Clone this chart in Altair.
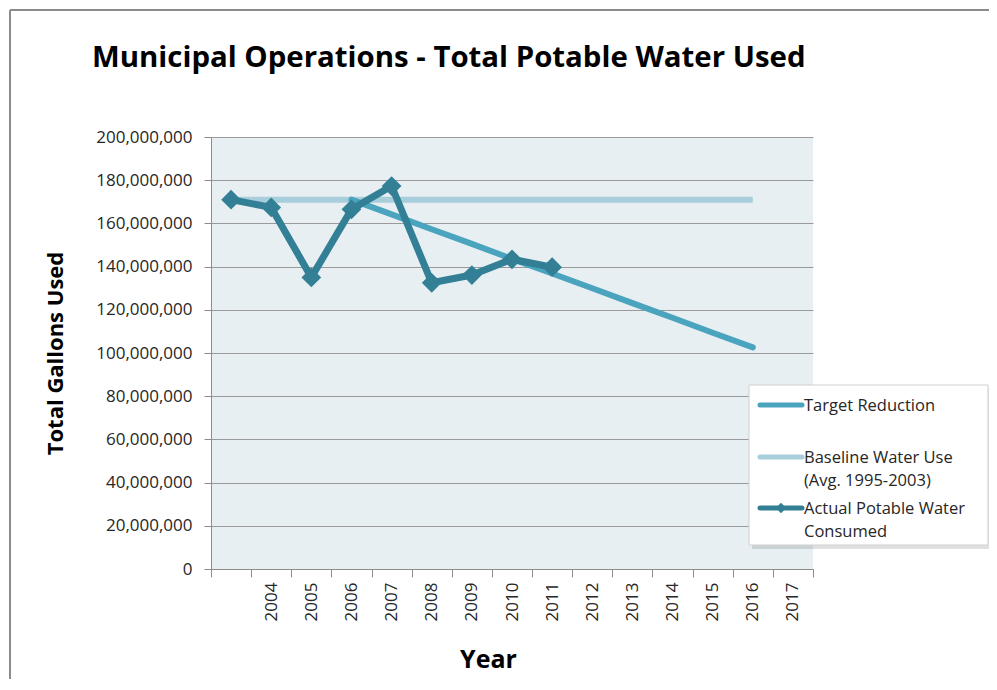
import altair as alt
import pandas as pd

# ---------------- data ----------------
categories = ["1995-2003", "2004", "2005", "2006", "2007", "2008", "2009", "2010",
              "2011", "2012", "2013", "2014", "2015", "2016", "2017"]

actual_years = ["1995-2003", "2004", "2005", "2006", "2007", "2008", "2009", "2010", "2011"]
actual_values = [171.0, 167.4, 135.0, 166.5, 177.3, 132.5, 136.1, 143.4, 139.7]  # million gallons

baseline_years = ["1995-2003", "2004", "2005", "2006", "2007", "2008", "2009", "2010",
                  "2011", "2012", "2013", "2014", "2015", "2016"]
baseline_values = [171.0, 171.0, 171.0, 171.0, 171.0, 171.0, 171.0, 171.0,
                   171.0, 171.0, 171.0, 171.0, 171.0, 171.0]

target_years = ["2006", "2007", "2008", "2009", "2010", "2011", "2012", "2013",
                "2014", "2015", "2016"]
target_values = [171.0, 164.2, 157.3, 150.5, 143.6, 136.8, 130.0, 123.1, 116.3, 109.4, 102.6]

series_names = ["Target Reduction", "Baseline Water Use (Avg. 1995-2003)",
                "Actual Potable Water Consumed"]
legend_labels = ["Target Reduction", "Baseline Water Use\n(Avg. 1995-2003)",
                 "Actual Potable Water\nConsumed"]
series_colors = ["#4AA4BE", "#A9CEDB", "#327F96"]

y_ticks = [0, 20000000, 40000000, 60000000, 80000000, 100000000,
           120000000, 140000000, 160000000, 180000000, 200000000]

chart_title = "Municipal Operations - Total Potable Water Used"

# ---------------- table ----------------
rows = []
for name, yrs, vals in [(series_names[0], target_years, target_values),
                        (series_names[1], baseline_years, baseline_values),
                        (series_names[2], actual_years, actual_values)]:
    for yr, v in zip(yrs, vals):
        rows.append({"series": name, "year": yr, "gallons": v * 1e6})
df = pd.DataFrame(rows)
one = pd.DataFrame({"k": [0]})

FONT = "Open Sans"
GRAY = "#8c8c8c"
TXT = "#262626"

x_enc = alt.X(
    "year:N",
    bandPosition=0.5,
    scale=alt.Scale(type="band", domain=categories, paddingInner=0, paddingOuter=0),
    axis=alt.Axis(
        title="Year", tickBand="extent", labelAngle=270,
        labelExpr="datum.value == '1995-2003' ? '' : datum.value",
        labelFont=FONT, labelFontSize=17, labelColor=TXT, labelPadding=5,
        tickColor=GRAY, tickSize=8, domainColor=GRAY, grid=False,
        titleFont=FONT, titleFontSize=25, titleFontWeight="bold", titleColor="black",
        titleX=277, titleY=98, titleBaseline="alphabetic", titleAlign="center",
    ),
)
y_enc = alt.Y(
    "gallons:Q",
    scale=alt.Scale(domain=[0, 200000000], nice=False),
    axis=alt.Axis(
        title="Total Gallons Used", values=y_ticks,
        labelExpr="format(datum.value, ',')",
        labelFont=FONT, labelFontSize=17, labelColor=TXT, labelPadding=12,
        tickColor=GRAY, tickSize=7, domainColor=GRAY,
        grid=True, gridColor="#9a9a9a", gridWidth=1,
        titleFont=FONT, titleFontSize=22, titleFontWeight="bold", titleColor="black",
        titleAngle=270, titleX=-156, titleY=216, titleAlign="center", titleBaseline="middle",
    ),
)
c_enc = alt.Color("series:N", scale=alt.Scale(domain=series_names, range=series_colors), legend=None)

base = alt.Chart(df).encode(x=x_enc, y=y_enc, color=c_enc)

baseline_line = base.transform_filter(alt.datum.series == series_names[1]).mark_line(
    strokeWidth=6, strokeCap="butt")
target_line = base.transform_filter(alt.datum.series == series_names[0]).mark_line(
    strokeWidth=6, strokeCap="round")
actual_line = base.transform_filter(alt.datum.series == series_names[2]).mark_line(
    strokeWidth=7, strokeJoin="round", strokeCap="round")
actual_pts = base.transform_filter(alt.datum.series == series_names[2]).mark_point(
    shape="diamond", filled=True, size=390, opacity=1)

# outer frame
frame_top = alt.Chart(one).mark_rule(color=GRAY, strokeWidth=2).encode(
    x=alt.value(-201), x2=alt.value(800), y=alt.value(-127))
frame_left = alt.Chart(one).mark_rule(color=GRAY, strokeWidth=2).encode(
    x=alt.value(-201), y=alt.value(-127), y2=alt.value(600))

# chart title
title_text = alt.Chart(one).mark_text(
    text=chart_title, align="left", baseline="alphabetic", font=FONT,
    fontSize=29.4, fontWeight="bold", color="black").encode(
    x=alt.value(-119), y=alt.value(-70))

# legend box
shadow = alt.Chart(one).mark_rect(color="#000000", opacity=0.12).encode(
    x=alt.value(541), x2=alt.value(781), y=alt.value(251), y2=alt.value(412))
box = alt.Chart(one).mark_rect(color="white", stroke="#cfcfcf", strokeWidth=1).encode(
    x=alt.value(538), x2=alt.value(777), y=alt.value(248), y2=alt.value(408))

legend_layers = [shadow, box]
entry_y = [268, 320, 371]
for i in range(3):
    legend_layers.append(
        alt.Chart(one).mark_rule(color=series_colors[i], strokeWidth=5, strokeCap="round").encode(
            x=alt.value(549), x2=alt.value(591), y=alt.value(entry_y[i])))
    legend_layers.append(
        alt.Chart(one).mark_text(text=legend_labels[i], lineBreak="\n", align="left",
                                 baseline="alphabetic", font=FONT, fontSize=16.5,
                                 lineHeight=23, color=TXT).encode(
            x=alt.value(593), y=alt.value(entry_y[i] + 6)))
legend_layers.append(
    alt.Chart(one).mark_point(shape="diamond", filled=True, size=110, opacity=1,
                              color=series_colors[2]).encode(
        x=alt.value(570), y=alt.value(entry_y[2])))

chart = alt.layer(
    frame_top, frame_left, title_text,
    baseline_line, target_line, actual_line, actual_pts,
    *legend_layers,
).properties(
    width=602, height=432,
    background="white",
    autosize=alt.AutoSizeParams(type="none"),
    padding={"left": 203, "top": 129, "right": 176, "bottom": 110},
).configure_view(
    fill="#E8EFF3", strokeWidth=0
)

chart.save("out.html", embed_options={"renderer": "svg", "actions": False})
